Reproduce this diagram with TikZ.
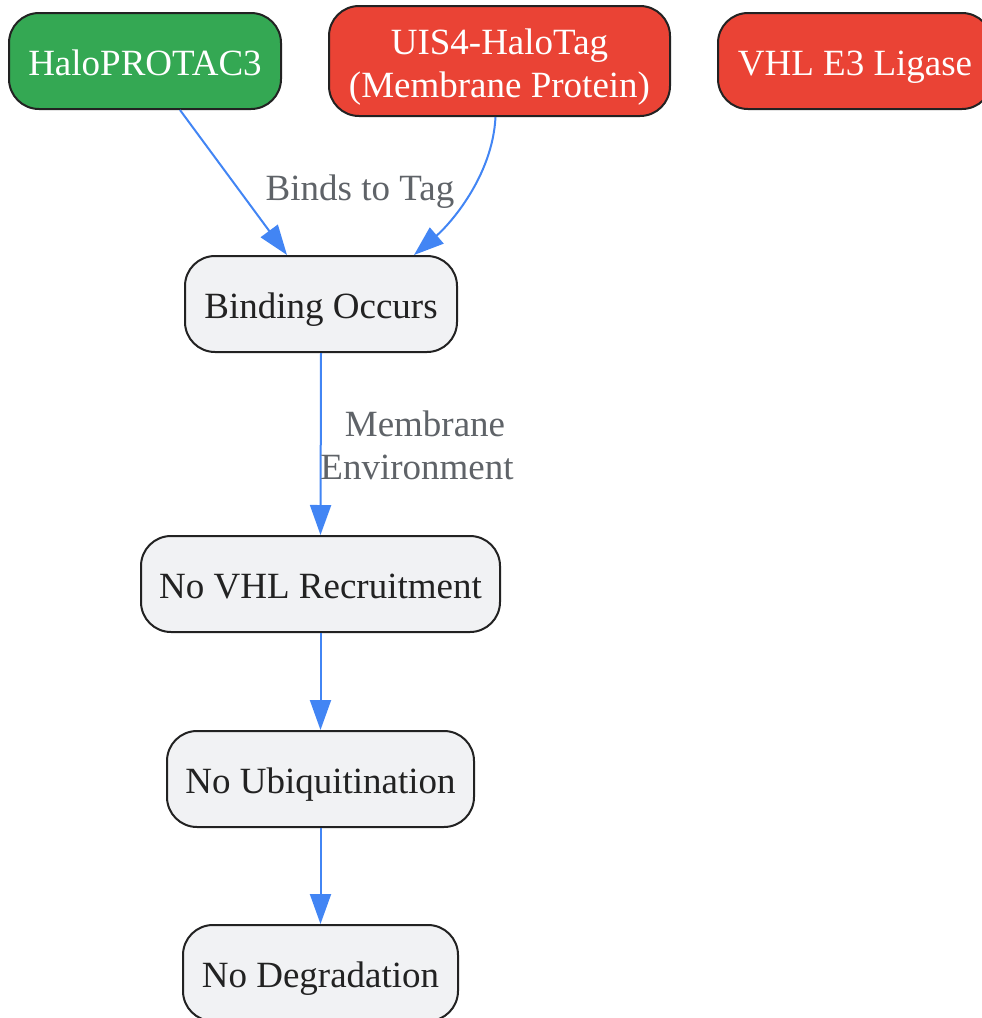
\documentclass[tikz,border=0pt]{standalone}
\usepackage{fontspec}
\setmainfont{Liberation Serif}
\usetikzlibrary{arrows.meta,calc}
\definecolor{edgeblue}{HTML}{4285F4}
\definecolor{boxline}{HTML}{222222}
\definecolor{boxfill}{HTML}{F1F2F4}
\definecolor{greenfill}{HTML}{34A853}
\definecolor{redfill}{HTML}{EA4335}
\definecolor{lblgray}{HTML}{5F6368}
\definecolor{txtdark}{HTML}{222222}
\begin{document}
\begin{tikzpicture}[x=1pt,y=-1pt,
  box/.style={draw=boxline, line width=2pt, rounded corners=30pt,
    font=\fontsize{37}{43}\selectfont, inner sep=0pt,
    minimum height=96pt, text height=36.5pt, text depth=8.1pt},
  grey/.style={box, fill=boxfill, text=txtdark},
  green/.style={box, fill=greenfill, text=white},
  red/.style={box, fill=redfill, text=white},
  edge/.style={draw=edgeblue, line width=2pt,
    -{Triangle[length=30pt,width=21pt]}},
  lbl/.style={font=\fontsize{37}{43}\selectfont, text=lblgray, align=center, inner sep=0pt}]
\useasboundingbox (0,0) rectangle (982,1018);
\clip (0,0) rectangle (982,1018);
\node[green, minimum width=272pt] (h) at (145,61) {HaloPROTAC3};
\node[red, minimum width=341pt, minimum height=110pt, text height=85.1pt, text depth=12.9pt] (u) at (499.5,61)
  {\begin{tabular}[b]{@{}c@{}}UIS4-HaloTag\\(Membrane Protein)\end{tabular}};
\node[red, minimum width=274pt] (vhl) at (855,61) {VHL E3 Ligase};
\node[grey, minimum width=272pt] (b) at (321,304) {Binding Occurs};
\node[grey, minimum width=359pt] (nv) at (320.5,584) {No VHL Recruitment};
\node[grey, minimum width=307pt] (nu) at (320.5,779) {No Ubiquitination};
\node[grey, minimum width=275pt] (nd) at (320.5,973) {No Degradation};

\draw[edge] ([xshift=35pt]h.south) -- ([xshift=-34pt]b.north);
\draw[edge] ([xshift=-4pt]u.south) .. controls +(-3,60) and +(35,-30) .. ([xshift=93pt]b.north);
\draw[edge] (b.south) -- (nv.north);
\draw[edge] (nv.south) -- (nu.north);
\draw[edge] (nu.south) -- (nd.north);

\node[lbl] (l1) at (360,192) {Binds to Tag};
\node[lbl] (l2) at (417,445) {\hspace*{16pt}Membrane\\Environment};
\end{tikzpicture}
\end{document}
